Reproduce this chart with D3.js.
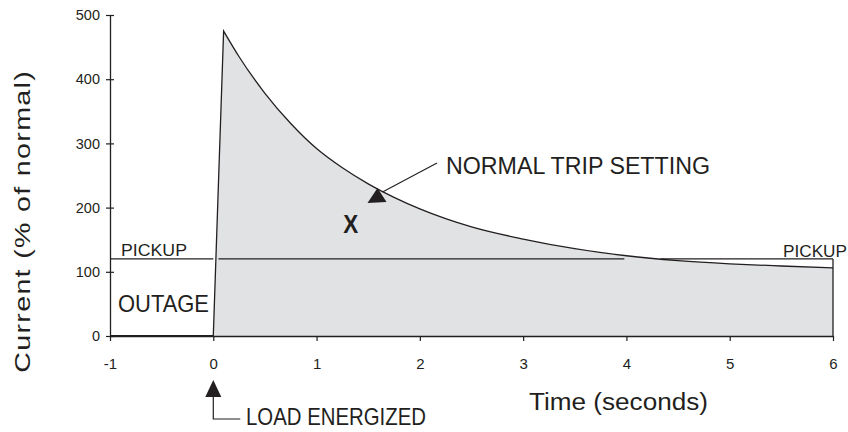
<!DOCTYPE html>
<html>
<head>
<meta charset="utf-8">
<script src="https://cdn.jsdelivr.net/npm/d3@7"></script>
<style>
  html, body { margin: 0; padding: 0; background: #fff; }
  svg { display: block; }
  text { font-family: "Liberation Sans", Arial, Helvetica, sans-serif; fill: #231f20; }
</style>
</head>
<body>
<svg id="chart" width="848" height="432"></svg>
<script>
// ---- data ----
const xTicks = [-1, 0, 1, 2, 3, 4, 5, 6];
const yTicks = [0, 100, 200, 300, 400, 500];
// current after energizing (time s, % of normal)
const decayTime  = [0.1, 0.25, 0.5, 0.75, 1, 1.25, 1.5, 1.75, 2, 2.5, 3, 3.5, 4, 4.5, 5, 5.5, 6];
const decayValue = [475, 435, 378, 331, 292, 262, 237, 216, 198, 170, 151, 136, 125, 117.5, 112.5, 109, 106];
const riseStart = [0, 0];           // load energized at t=0
const outageTime = [-1, 0];         // zero current during outage
const pickupLevel = 120;
const pickupSegments = [[-1, 0], [0.05, 3.98], [4.33, 6]];
const tripPoint = [1.59, 229];
const xMark = [1.33, 160];

const svg = d3.select("#chart");
const ink = "#231f20";
const fillGray = "#e1e2e4";

const x = d3.scaleLinear().domain([-1, 6]).range([110, 833]);
const y = d3.scaleLinear().domain([0, 500]).range([336, 15]);

// ---- shaded area (rise + decay) ----
const decayPts = decayTime.map((t, i) => [x(t), y(decayValue[i])]);
const decayPath = d3.line().curve(d3.curveMonotoneX)(decayPts);
const areaPath = "M" + x(riseStart[0]) + "," + y(riseStart[1]) +
  "L" + decayPath.slice(1) +
  "L" + x(decayTime[decayTime.length - 1]) + "," + y(0) + "Z";
svg.append("path").attr("d", areaPath).attr("fill", fillGray).attr("stroke", "none");

// outline of rise + decay curve
svg.append("path")
  .attr("d", "M" + x(riseStart[0]) + "," + y(riseStart[1]) + "L" + decayPath.slice(1))
  .attr("fill", "none").attr("stroke", ink).attr("stroke-width", 1.3);

// right edge at t=6 from pickup down to zero
svg.append("line")
  .attr("x1", x(6)).attr("x2", x(6))
  .attr("y1", y(pickupLevel)).attr("y2", y(0))
  .attr("stroke", ink).attr("stroke-width", 1.3);

// pickup line segments
svg.selectAll("line.pickup").data(pickupSegments).join("line")
  .attr("class", "pickup")
  .attr("x1", d => x(d[0])).attr("x2", d => x(d[1]))
  .attr("y1", y(pickupLevel)).attr("y2", y(pickupLevel))
  .attr("stroke", ink).attr("stroke-width", 1.2);

// ---- axes ----
const yAxis = d3.axisLeft(y).tickValues(yTicks).tickSizeInner(4).tickSizeOuter(0).tickPadding(6)
  .tickFormat(d => String(d));
const gy = svg.append("g").attr("transform", "translate(" + x(-1) + ",0)").call(yAxis);
gy.selectAll(".tick line").attr("x1", 4).attr("x2", -4);
gy.selectAll("text").attr("font-size", 14.5).style("font-family", '"Liberation Sans", Arial, sans-serif').attr("fill", ink);

const xAxis = d3.axisBottom(x).tickValues(xTicks).tickSizeInner(5).tickSizeOuter(0).tickPadding(17)
  .tickFormat(d => String(d));
const gx = svg.append("g").attr("transform", "translate(0," + y(0) + ")").call(xAxis);
gx.selectAll("text").attr("font-size", 15).style("font-family", '"Liberation Sans", Arial, sans-serif').attr("fill", ink);

[gx, gy].forEach(g => {
  g.select(".domain").attr("stroke", ink).attr("stroke-width", 1.3);
  g.selectAll(".tick line").attr("stroke", ink).attr("stroke-width", 1.2);
});

// outage line (zero current, drawn heavier)
svg.append("line")
  .attr("x1", x(outageTime[0])).attr("x2", x(outageTime[1]))
  .attr("y1", y(0)).attr("y2", y(0))
  .attr("stroke", ink).attr("stroke-width", 2.2);

// ---- axis titles ----
svg.append("text")
  .attr("transform", "translate(29.5," + 222 + ") rotate(-90) scale(1.3,1)")
  .attr("text-anchor", "middle")
  .attr("font-size", 22)
  .attr("textLength", 232).attr("lengthAdjust", "spacing")
  .text("Current (% of normal)");

svg.append("text")
  .attr("x", 529).attr("y", 410)
  .attr("font-size", 23.5)
  .attr("textLength", 179).attr("lengthAdjust", "spacingAndGlyphs")
  .text("Time (seconds)");

// ---- annotations ----
svg.append("text").attr("x", 121).attr("y", 256)
  .attr("font-size", 16.5).attr("textLength", 66).attr("lengthAdjust", "spacingAndGlyphs")
  .text("PICKUP");
svg.append("text").attr("x", 783).attr("y", 256.5)
  .attr("font-size", 16.5).attr("textLength", 64).attr("lengthAdjust", "spacingAndGlyphs")
  .text("PICKUP");
svg.append("text").attr("x", 118).attr("y", 312)
  .attr("font-size", 24).attr("textLength", 91).attr("lengthAdjust", "spacingAndGlyphs")
  .text("OUTAGE");
svg.append("text").attr("x", x(xMark[0])).attr("y", y(xMark[1]))
  .attr("text-anchor", "middle").attr("font-size", 25).attr("font-weight", "bold")
  .attr("textLength", 15).attr("lengthAdjust", "spacingAndGlyphs")
  .text("X");

svg.append("text").attr("x", 446).attr("y", 173.5)
  .attr("font-size", 23.5).attr("textLength", 264).attr("lengthAdjust", "spacingAndGlyphs")
  .text("NORMAL TRIP SETTING");

// trip setting arrow
const tx = x(tripPoint[0]), ty = y(tripPoint[1]);
svg.append("line")
  .attr("x1", 437).attr("y1", 163).attr("x2", tx + 5).attr("y2", ty + 3)
  .attr("stroke", ink).attr("stroke-width", 1.1);
svg.append("path")
  .attr("d", "M" + tx + "," + (ty - 1) + "L" + (tx - 10) + "," + (ty + 14) + "L" + (tx + 9) + "," + (ty + 13) + "Z")
  .attr("fill", ink);

// load energized arrow
const ax = x(0);
svg.append("path")
  .attr("d", "M" + ax + ",380L" + (ax - 8) + ",397L" + (ax + 8) + ",397Z")
  .attr("fill", ink);
svg.append("path")
  .attr("d", "M" + ax + ",396L" + ax + ",419L" + (ax + 27) + ",419")
  .attr("fill", "none").attr("stroke", ink).attr("stroke-width", 1.2);
svg.append("text").attr("x", 246).attr("y", 425)
  .attr("font-size", 24).attr("textLength", 180).attr("lengthAdjust", "spacingAndGlyphs")
  .text("LOAD ENERGIZED");
</script>
</body>
</html>
